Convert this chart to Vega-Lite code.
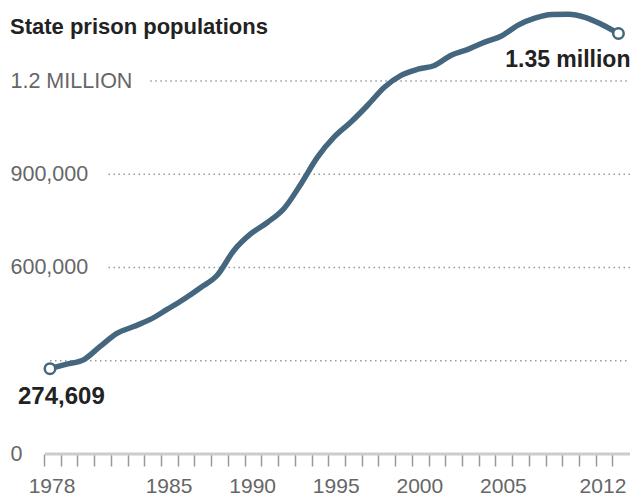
{
  "$schema": "https://vega.github.io/schema/vega-lite/v6.json",
  "width": 630,
  "height": 454,
  "autosize": "none",
  "padding": {"left": 0, "top": 0, "right": 0, "bottom": 47},
  "background": "white",
  "title": {
    "text": "State prison populations",
    "anchor": "start",
    "frame": "group",
    "orient": "top",
    "font": "Liberation Sans",
    "fontSize": 22,
    "fontWeight": "bold",
    "color": "#222222",
    "baseline": "middle",
    "offset": 0,
    "dx": 10,
    "dy": 49
  },
  "config": {
    "view": {"stroke": null},
    "font": "Liberation Sans"
  },
  "datasets": {
    "prison": [
      {"year": 1978, "value": 274609},
      {"year": 1979, "value": 289000},
      {"year": 1980, "value": 303000},
      {"year": 1981, "value": 346000},
      {"year": 1982, "value": 388000},
      {"year": 1983, "value": 410000},
      {"year": 1984, "value": 433000},
      {"year": 1985, "value": 465000},
      {"year": 1986, "value": 498000},
      {"year": 1987, "value": 535000},
      {"year": 1988, "value": 575000},
      {"year": 1989, "value": 655000},
      {"year": 1990, "value": 708000},
      {"year": 1991, "value": 745000},
      {"year": 1992, "value": 790000},
      {"year": 1993, "value": 868000},
      {"year": 1994, "value": 955000},
      {"year": 1995, "value": 1020000},
      {"year": 1996, "value": 1068000},
      {"year": 1997, "value": 1122000},
      {"year": 1998, "value": 1180000},
      {"year": 1999, "value": 1218000},
      {"year": 2000, "value": 1238000},
      {"year": 2001, "value": 1250000},
      {"year": 2002, "value": 1283000},
      {"year": 2003, "value": 1302000},
      {"year": 2004, "value": 1325000},
      {"year": 2005, "value": 1345000},
      {"year": 2006, "value": 1380000},
      {"year": 2007, "value": 1402000},
      {"year": 2008, "value": 1414000},
      {"year": 2009, "value": 1415000},
      {"year": 2010, "value": 1405000},
      {"year": 2011, "value": 1382000},
      {"year": 2012, "value": 1353000}
    ],
    "grid": [
      {"value": 300000, "from": 1978, "to": 2012.69},
      {"value": 600000, "from": 1981.5, "to": 2012.69},
      {"value": 900000, "from": 1981.5, "to": 2012.69},
      {"value": 1200000, "from": 1984.0, "to": 2012.69}
    ],
    "ends": [
      {"year": 1978, "value": 274609, "label": "274,609"},
      {"year": 2012, "value": 1353000, "label": "1.35 million"}
    ]
  },
  "layer": [
    {
      "data": {"name": "grid"},
      "mark": {"type": "rule", "stroke": "#999999", "strokeWidth": 1.5, "strokeDash": [1.5, 3.5]},
      "encoding": {
        "x": {
          "field": "from", "type": "quantitative",
          "scale": {"domain": [1975.01, 2012.69], "nice": false, "zero": false},
          "axis": {
            "title": null,
            "domain": false,
            "grid": false,
            "tickCount": 60,
            "values": [1978,1979,1980,1981,1982,1983,1984,1985,1986,1987,1988,1989,1990,1991,1992,1993,1994,1995,1996,1997,1998,1999,2000,2001,2002,2003,2004,2005,2006,2007,2008,2009,2010,2011,2012,2013],
            "labelExpr": "indexof([1978,1985,1990,1995,2000,2005,2012], datum.value) >= 0 ? '' + datum.value : ''",
            "tickOffset": -6,
            "labelOffset": {"condition": {"test": "datum.value == 2012", "value": -10}, "value": 7.5},
            "tickSize": 12,
            "tickWidth": 1.5,
            "tickColor": "#999999",
            "labelFontSize": 21,
            "labelColor": "#666666",
            "labelPadding": 9,
            "labelFlush": false,
            "labelOverlap": false,
            "labelBound": false
          }
        },
        "x2": {"field": "to"},
        "y": {
          "field": "value", "type": "quantitative",
          "scale": {"domain": [0, 1460700], "nice": false},
          "axis": {
            "title": null,
            "domain": false,
            "grid": false,
            "ticks": false,
            "tickSize": 0,
            "values": [0, 600000, 900000, 1200000],
            "labelExpr": "datum.value == 1200000 ? '1.2 MILLION' : format(datum.value, ',')",
            "labelAlign": "left",
            "labelBaseline": "middle",
            "labelPadding": -10,
            "labelFontSize": 21.5,
            "labelColor": "#666666",
            "labelFlush": false,
            "labelOverlap": false,
            "labelBound": false
          }
        }
      }
    },
    {
      "data": {"values": [{}]},
      "mark": {"type": "rule", "stroke": "#cccccc", "strokeWidth": 3},
      "encoding": {
        "x": {"datum": 1977.7, "type": "quantitative"},
        "x2": {"datum": 2012.69},
        "y": {"datum": 0, "type": "quantitative"}
      }
    },
    {
      "data": {"name": "prison"},
      "mark": {"type": "line", "stroke": "#44677f", "strokeWidth": 5.5, "interpolate": "monotone", "strokeCap": "round", "strokeJoin": "round"},
      "encoding": {
        "x": {"field": "year", "type": "quantitative"},
        "y": {"field": "value", "type": "quantitative"}
      }
    },
    {
      "data": {"name": "ends"},
      "mark": {"type": "point", "filled": true, "fill": "white", "stroke": "#44677f", "strokeWidth": 2.5, "size": 110, "opacity": 1},
      "encoding": {
        "x": {"field": "year", "type": "quantitative"},
        "y": {"field": "value", "type": "quantitative"}
      }
    },
    {
      "data": {"name": "ends"},
      "transform": [{"filter": "datum.year == 1978"}],
      "mark": {"type": "text", "align": "left", "baseline": "middle", "dx": -32, "dy": 28, "fontSize": 24, "fontWeight": "bold", "color": "#222222"},
      "encoding": {
        "x": {"field": "year", "type": "quantitative"},
        "y": {"field": "value", "type": "quantitative"},
        "text": {"field": "label"}
      }
    },
    {
      "data": {"name": "ends"},
      "transform": [{"filter": "datum.year == 2012"}],
      "mark": {"type": "text", "align": "right", "baseline": "middle", "dx": 12, "dy": 27, "fontSize": 23, "fontWeight": "bold", "color": "#222222"},
      "encoding": {
        "x": {"field": "year", "type": "quantitative"},
        "y": {"field": "value", "type": "quantitative"},
        "text": {"field": "label"}
      }
    }
  ]
}
